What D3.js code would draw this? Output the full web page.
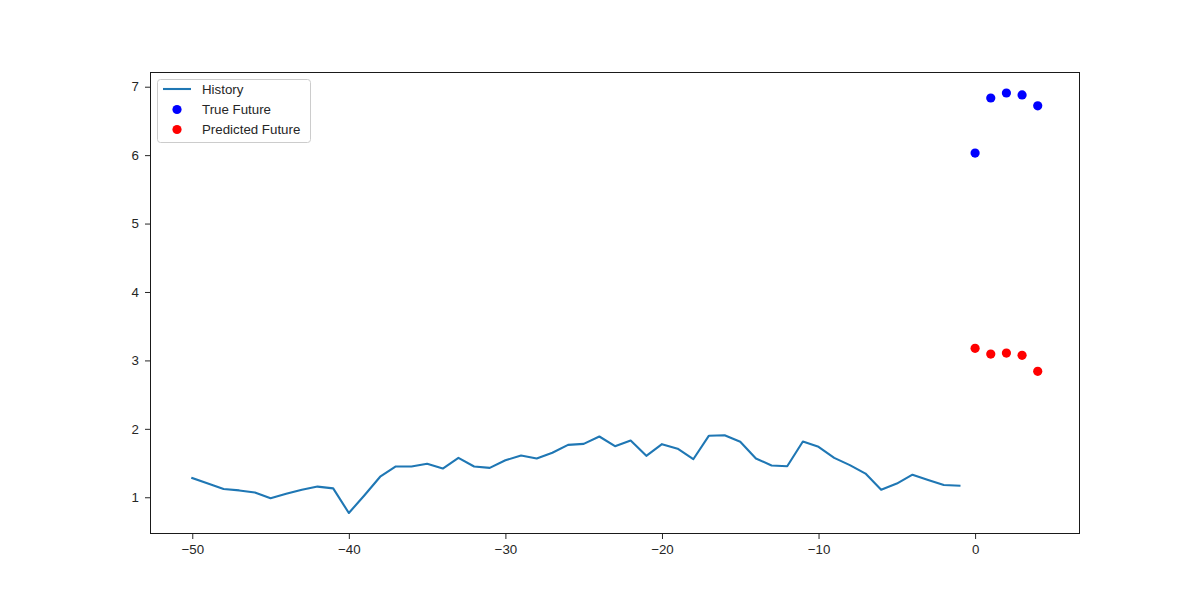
<!DOCTYPE html>
<html>
<head>
<meta charset="utf-8">
<script src="https://cdn.jsdelivr.net/npm/d3@7"></script>
<style>
  body { margin: 0; background: #fff; }
  svg { display: block; }
  text { font-family: "Liberation Sans", Arial, sans-serif; }
</style>
</head>
<body>
<svg id="chart" width="1200" height="600"></svg>
<script>
// ---- data ----
const historySteps = d3.range(-50, 0);
const historyValues = [1.28, 1.20, 1.12, 1.10, 1.07, 0.985, 1.05, 1.11, 1.156, 1.13,
  0.77, 1.03, 1.30, 1.45, 1.45, 1.49, 1.42, 1.575, 1.45, 1.43,
  1.54, 1.61, 1.566, 1.65, 1.766, 1.78, 1.888, 1.746, 1.83, 1.605,
  1.776, 1.71, 1.556, 1.90, 1.907, 1.81, 1.566, 1.465, 1.454, 1.815,
  1.737, 1.576, 1.47, 1.346, 1.11, 1.20, 1.33, 1.253, 1.18, 1.17];
const futureSteps = [0, 1, 2, 3, 4];
const trueFuture = [6.03, 6.835, 6.908, 6.88, 6.72];
const predictedFuture = [3.176, 3.093, 3.107, 3.074, 2.84];
const xTicks = [-50, -40, -30, -20, -10, 0];
const yTicks = [1, 2, 3, 4, 5, 6, 7];
const legendLabels = ["History", "True Future", "Predicted Future"];

// ---- layout ----
const svg = d3.select("#chart");
const L = 150, R = 1080, T = 72, B = 534;

const allX = historySteps.concat(futureSteps);
const allY = historyValues.concat(trueFuture, predictedFuture);
const [x0, x1] = d3.extent(allX), [y0, y1] = d3.extent(allY);
const mx = (x1 - x0) * 0.05, my = (y1 - y0) * 0.05;

const x = d3.scaleLinear().domain([x0 - mx, x1 + mx]).range([L, R]);
const y = d3.scaleLinear().domain([y0 - my, y1 + my]).range([B, T]);

const textColor = "#262626";
const fmt = d => (d < 0 ? "\u2212" + Math.abs(d) : String(d));

// axes
const xAxis = svg.append("g").attr("transform", `translate(0,${B})`)
  .call(d3.axisBottom(x).tickValues(xTicks).tickFormat(fmt).tickSize(5).tickPadding(6));
const yAxis = svg.append("g").attr("transform", `translate(${L},0)`)
  .call(d3.axisLeft(y).tickValues(yTicks).tickFormat(fmt).tickSize(5).tickPadding(6));
[xAxis, yAxis].forEach(a => {
  a.select(".domain").remove();
  a.selectAll(".tick line").attr("stroke", textColor).attr("stroke-width", 1);
  a.selectAll(".tick text").attr("fill", textColor).style("font-size", "13.3px")
    .style("font-family", '"Liberation Sans", Arial, sans-serif');
});

// frame
svg.append("rect").attr("x", L + 0.5).attr("y", T + 0.5).attr("width", R - L - 1).attr("height", B - T - 1)
  .attr("fill", "none").attr("stroke", "#1a1a1a").attr("stroke-width", 1);

// history line
svg.append("path")
  .datum(historySteps.map((s, i) => [s, historyValues[i]]))
  .attr("fill", "none").attr("stroke", "#1f77b4").attr("stroke-width", 2.1)
  .attr("stroke-linejoin", "round").attr("stroke-linecap", "square")
  .attr("d", d3.line().x(d => x(d[0])).y(d => y(d[1])));

// points
svg.append("g").selectAll("circle").data(futureSteps.map((s, i) => [s, trueFuture[i]]))
  .join("circle").attr("cx", d => x(d[0])).attr("cy", d => y(d[1])).attr("r", 4.6).attr("fill", "#0000ff");
svg.append("g").selectAll("circle").data(futureSteps.map((s, i) => [s, predictedFuture[i]]))
  .join("circle").attr("cx", d => x(d[0])).attr("cy", d => y(d[1])).attr("r", 4.6).attr("fill", "#ff0000");

// legend
const lg = svg.append("g");
lg.append("rect").attr("x", 157.5).attr("y", 79.5).attr("width", 153).attr("height", 63)
  .attr("rx", 3).attr("fill", "#fff").attr("fill-opacity", 0.8)
  .attr("stroke", "#cccccc").attr("stroke-width", 1);
const rowsY = [89, 109.5, 129.5];
lg.append("line").attr("x1", 163).attr("x2", 191).attr("y1", rowsY[0]).attr("y2", rowsY[0])
  .attr("stroke", "#1f77b4").attr("stroke-width", 2.1);
lg.append("circle").attr("cx", 177).attr("cy", rowsY[1]).attr("r", 4.6).attr("fill", "#0000ff");
lg.append("circle").attr("cx", 177).attr("cy", rowsY[2]).attr("r", 4.6).attr("fill", "#ff0000");
legendLabels.forEach((t, i) => {
  lg.append("text").attr("x", 202).attr("y", rowsY[i]).attr("dy", "0.36em")
    .attr("fill", textColor).style("font-size", "13.3px").text(t);
});
</script>
</body>
</html>
